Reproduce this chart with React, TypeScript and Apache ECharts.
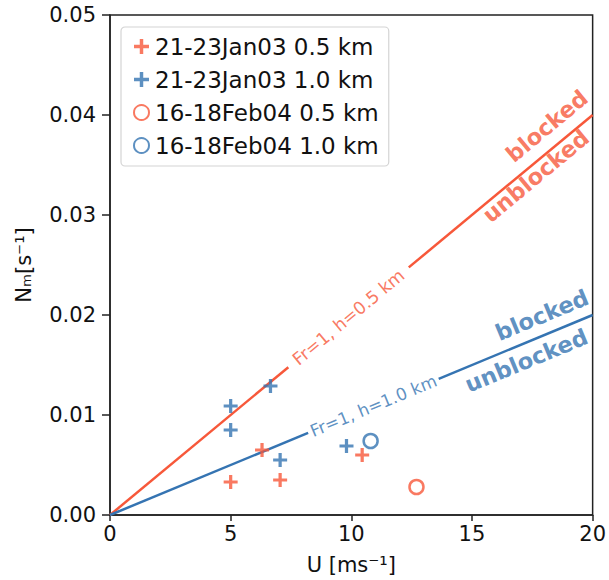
import React, { useEffect, useRef } from "react";
import * as echarts from "echarts";

// ---- data ----
const JAN03_05_U = [5.0, 6.3, 7.05, 10.45];
const JAN03_05_N = [0.0033, 0.0065, 0.0035, 0.006];
const JAN03_10_U = [5.0, 5.0, 6.65, 7.05, 9.8];
const JAN03_10_N = [0.0109, 0.0085, 0.0129, 0.0055, 0.0069];
const FEB04_05_U = [12.7];
const FEB04_05_N = [0.0028];
const FEB04_10_U = [10.8];
const FEB04_10_N = [0.0074];

// Fr = 1 lines (two segments each, broken where the inline label sits)
const FR05_SEG_U = [[0, 7.39], [12.38, 20]];
const FR05_SEG_N = [[0, 0.01478], [0.02476, 0.04]];
const FR10_SEG_U = [[0, 8.21], [13.62, 20]];
const FR10_SEG_N = [[0, 0.00821], [0.01362, 0.02]];

const SERIES_NAMES = [
  "21-23Jan03 0.5 km",
  "21-23Jan03 1.0 km",
  "16-18Feb04 0.5 km",
  "16-18Feb04 1.0 km",
];

// annotation text anchors (data coordinates)
const FR05_LABEL = { text: "Fr=1, h=0.5 km", u: 9.885, n: 0.01977 };
const FR10_LABEL = { text: "Fr=1, h=1.0 km", u: 10.915, n: 0.010915 };
const RED_BLOCKED = { text: "blocked", u: 18.1, n: 0.0389 };
const RED_UNBLOCKED = { text: "unblocked", u: 17.64, n: 0.0339 };
const BLUE_BLOCKED = { text: "blocked", u: 17.9, n: 0.02 };
const BLUE_UNBLOCKED = { text: "unblocked", u: 17.25, n: 0.01545 };

const X_TICKS = { min: 0, max: 20, interval: 5 };
const Y_TICKS = { min: 0, max: 0.05, interval: 0.01 };

const RED = "#f7583a";
const BLUE = "#3574b2";
const FONT = "DejaVu Sans";
const PLUS = "path://M5,0H8V5H13V8H8V13H5V8H0V5H5Z";

const zip = (a: number[], b: number[]) => a.map((v, i) => [v, b[i]]);

export default function App() {
  const ref = useRef<HTMLDivElement>(null);
  useEffect(() => {
    if (!ref.current) return;
    const chart = echarts.init(ref.current, null, { renderer: "svg" });

    const segSeries = (us: number[][], ns: number[][], color: string) =>
      us.map((u, i) => ({
        type: "line",
        data: zip(u, ns[i]),
        symbol: "none",
        lineStyle: { color, width: 2.5 },
        silent: true,
        z: 1,
      }));

    const base: any = {
      animation: false,
      backgroundColor: "#fff",
      grid: {
        left: 110,
        right: 12,
        top: 15,
        bottom: 64,
        show: true,
        borderColor: "#222",
        borderWidth: 1.5,
      },
      xAxis: {
        type: "value",
        ...X_TICKS,
        name: "U [ms⁻¹]",
        nameLocation: "middle",
        nameGap: 39,
        nameTextStyle: { fontSize: 21, fontFamily: FONT, color: "#111" },
        axisLine: { lineStyle: { color: "#222", width: 1.5 } },
        axisTick: { length: 6, lineStyle: { color: "#222", width: 1.5 } },
        axisLabel: { fontSize: 21, fontFamily: FONT, color: "#111", margin: 8 },
        splitLine: { show: false },
      },
      yAxis: {
        type: "value",
        ...Y_TICKS,
        name: "Nₘ[s⁻¹]",
        nameLocation: "middle",
        nameGap: 76,
        nameTextStyle: { fontSize: 21, fontFamily: FONT, color: "#111" },
        axisLine: { lineStyle: { color: "#222", width: 1.5 } },
        axisTick: { length: 8, lineStyle: { color: "#222", width: 1.5 } },
        axisLabel: {
          fontSize: 21,
          fontFamily: FONT,
          color: "#111",
          margin: 14,
          formatter: (v: number) => v.toFixed(2),
        },
        splitLine: { show: false },
      },
      legend: {
        data: SERIES_NAMES,
        orient: "vertical",
        left: 121,
        top: 27,
        padding: [8, 10, 9, 12],
        itemWidth: 17,
        itemHeight: 15,
        itemGap: 10,
        backgroundColor: "#fff",
        borderColor: "#d4d4d4",
        borderWidth: 1.2,
        borderRadius: 4,
        textStyle: { fontSize: 23, lineHeight: 23, fontFamily: FONT, color: "#111" },
      },
      series: [
        ...segSeries(FR05_SEG_U, FR05_SEG_N, RED),
        ...segSeries(FR10_SEG_U, FR10_SEG_N, BLUE),
        {
          name: SERIES_NAMES[0],
          type: "scatter",
          data: zip(JAN03_05_U, JAN03_05_N),
          symbol: PLUS,
          symbolSize: 14,
          itemStyle: { color: RED },
          z: 3,
        },
        {
          name: SERIES_NAMES[1],
          type: "scatter",
          data: zip(JAN03_10_U, JAN03_10_N),
          symbol: PLUS,
          symbolSize: 14,
          itemStyle: { color: BLUE },
          z: 3,
        },
        {
          name: SERIES_NAMES[2],
          type: "scatter",
          data: zip(FEB04_05_U, FEB04_05_N),
          symbol: "circle",
          symbolSize: 14,
          itemStyle: { color: "rgba(255,255,255,0)", borderColor: RED, borderWidth: 2.5 },
          z: 3,
        },
        {
          name: SERIES_NAMES[3],
          type: "scatter",
          data: zip(FEB04_10_U, FEB04_10_N),
          symbol: "circle",
          symbolSize: 14,
          itemStyle: { color: "rgba(255,255,255,0)", borderColor: BLUE, borderWidth: 2.5 },
          z: 3,
        },
      ],
    };
    chart.setOption(base);

    const angleOf = (nAt20: number) => {
      const p0 = chart.convertToPixel({ gridIndex: 0 }, [0, 0]) as number[];
      const p1 = chart.convertToPixel({ gridIndex: 0 }, [20, nAt20]) as number[];
      return (Math.atan2(p0[1] - p1[1], p1[0] - p0[0]) * 180) / Math.PI;
    };
    const redAngle = angleOf(FR05_SEG_N[1][1]);
    const blueAngle = angleOf(FR10_SEG_N[1][1]);

    const annot = (
      a: { text: string; u: number; n: number },
      color: string,
      rotate: number,
      fontSize: number,
      bold: boolean
    ) => ({
      type: "scatter",
      data: [[a.u, a.n]],
      symbolSize: 0,
      silent: true,
      z: 4,
      label: {
        show: true,
        position: "inside",
        formatter: a.text,
        rotate,
        color,
        fontSize,
        fontFamily: FONT,
        fontWeight: bold ? "bold" : "normal",
        align: "center",
        verticalAlign: "middle",
      },
    });

    chart.setOption({
      series: [
        ...base.series,
        annot(FR05_LABEL, RED, redAngle, 17.5, false),
        annot(FR10_LABEL, BLUE, blueAngle, 17, false),
        annot(RED_BLOCKED, RED, redAngle, 22.5, true),
        annot(RED_UNBLOCKED, RED, redAngle, 22.5, true),
        annot(BLUE_BLOCKED, BLUE, blueAngle, 22.5, true),
        annot(BLUE_UNBLOCKED, BLUE, blueAngle, 22.5, true),
      ],
    });

    return () => chart.dispose();
  }, []);

  return (
    <div
      ref={ref}
      style={{ position: "fixed", left: 0, top: 0, width: 609, height: 580 }}
    />
  );
}
